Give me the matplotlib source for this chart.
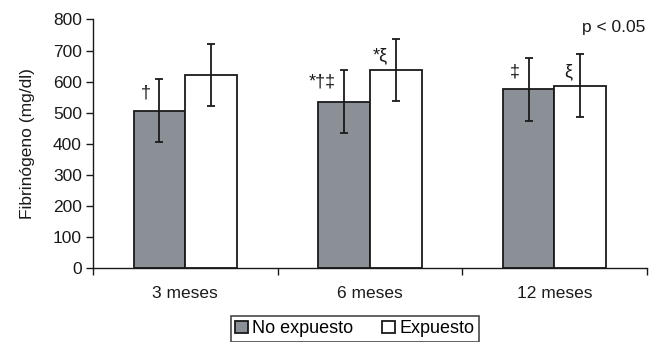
import matplotlib
matplotlib.use("Agg")
import matplotlib.pyplot as plt
import numpy as np

plt.rcParams['font.family'] = ['Liberation Sans', 'DejaVu Sans']

categories = ["3 meses", "6 meses", "12 meses"]
no_expuesto = [506, 535, 575]
no_expuesto_err = [101, 101, 100]
expuesto = [621, 637, 587]
expuesto_err = [100, 99, 101]
series_names = ["No expuesto", "Expuesto"]
yticks = [0, 100, 200, 300, 400, 500, 600, 700, 800]

# annotations: (group index, series index, text, y value)
annotations = [
    (0, 0, "†", 563),
    (1, 0, "*†‡", 600),
    (1, 1, "*ξ", 684),
    (2, 0, "‡", 632),
    (2, 1, "ξ", 632),
]

fig = plt.figure(figsize=(6.5, 3.42), dpi=100)
ax = fig.add_axes([0.143, 0.216, 0.852, 0.727])

x = np.arange(len(categories))
w = 0.28
gray = "#8a9096"
ek = dict(ecolor="#1a1a1a", elinewidth=1.3, capsize=3, capthick=1.3)
ax.bar(x - w/2, no_expuesto, w, color=gray, edgecolor="#1a1a1a", linewidth=1.3,
       yerr=no_expuesto_err, error_kw=ek, label=series_names[0], zorder=2)
ax.bar(x + w/2, expuesto, w, color="white", edgecolor="#1a1a1a", linewidth=1.3,
       yerr=expuesto_err, error_kw=ek, label=series_names[1], zorder=2)

for gi, si, txt, yv in annotations:
    xc = x[gi] + (-w/2 if si == 0 else w/2)
    ax.annotate(txt, xy=(xc, yv), xytext=(-6, 0), textcoords="offset points",
                ha="right", va="center", fontsize=13, color="#1a1a1a")

ax.text(0.997, 773, "p < 0.05", transform=ax.get_yaxis_transform(),
        ha="right", va="center", fontsize=12.5, color="#1a1a1a")

ax.set_xlim(-0.5, len(categories) - 0.5)
ax.set_ylim(0, 800)
ax.set_yticks(yticks)
ax.tick_params(axis="y", direction="out", length=5, width=1, labelsize=12.5, pad=3,
               colors="#1a1a1a")
ax.set_xticks(np.arange(len(categories) + 1) - 0.5)
ax.set_xticklabels([])
ax.tick_params(axis="x", which="major", direction="out", length=5, width=1, colors="#1a1a1a")
ax.set_xticks(x, minor=True)
ax.set_xticklabels(categories, minor=True, fontsize=12.5, color="#1a1a1a")
ax.tick_params(axis="x", which="minor", length=0, pad=13)

for s in ["top", "right"]:
    ax.spines[s].set_visible(False)
for s in ["left", "bottom"]:
    ax.spines[s].set_linewidth(1)
    ax.spines[s].set_color("#1a1a1a")

ax.set_ylabel("Fibrinógeno (mg/dl)", fontsize=12.5, color="#1a1a1a", labelpad=13)

leg = fig.legend(loc="upper center", bbox_to_anchor=(0.546, 0.077), ncol=2,
                 frameon=True, fancybox=False, edgecolor="#1a1a1a", fontsize=13,
                 handlelength=0.7, handleheight=0.7, handletextpad=0.25,
                 columnspacing=1.6, borderpad=0.25, borderaxespad=0)
leg.get_frame().set_linewidth(1.2)

fig.savefig("out.png", dpi=100)
